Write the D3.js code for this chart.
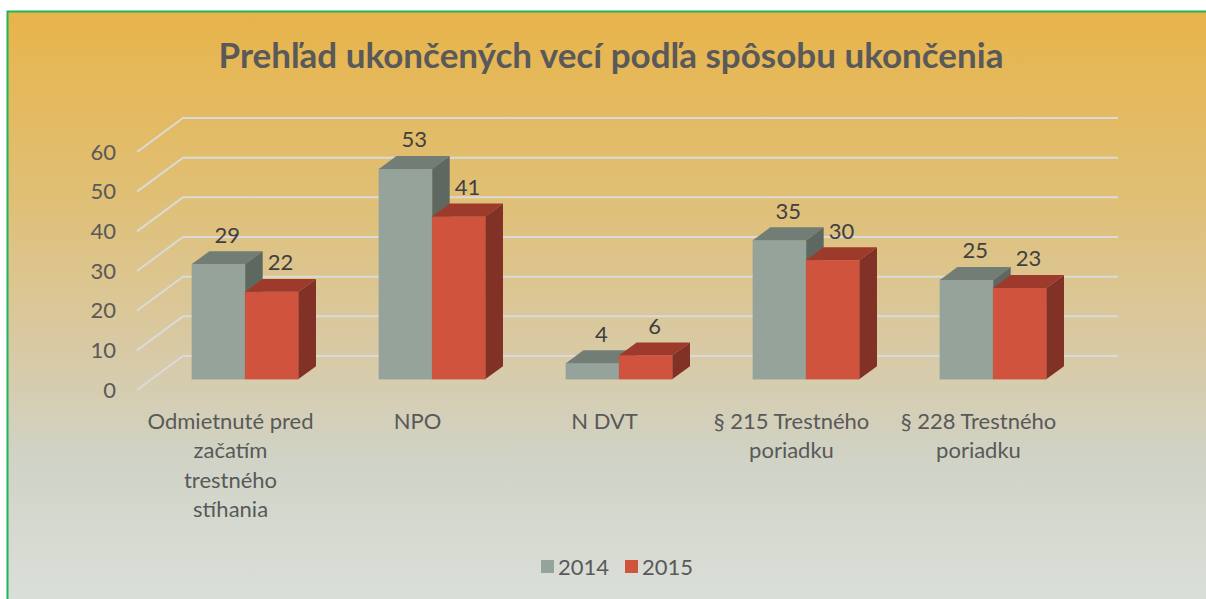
<!DOCTYPE html>
<html>
<head>
<meta charset="utf-8">
<script src="https://cdn.jsdelivr.net/npm/d3@7"></script>
<style>
  html, body { margin: 0; padding: 0; background: #fff; }
  svg { display: block; }
</style>
</head>
<body>
<div id="chart-container"></div>
<script>
const categoryLines = [
    ["Odmietnuté pred", "začatím", "trestného", "stíhania"],
    ["NPO"],
    ["N DVT"],
    ["§ 215 Trestného", "poriadku"],
    ["§ 228 Trestného", "poriadku"]
];
const categories = categoryLines.map(l => l.join(" "));
const seriesNames = ["2014", "2015"];
const values2014 = [29, 53, 4, 35, 25];
const values2015 = [22, 41, 6, 30, 23];
const yTicks = [0, 10, 20, 30, 40, 50, 60];
const title = "Prehľad ukončených vecí podľa spôsobu ukončenia";

const width = 1206;
const height = 599;
const font = "Lato, 'Open Sans', sans-serif";
const labelSize = "22px";

// 3d projection: depth 0 = front plane, depth 1 = back wall
const DX = 46, DY = -34;
const barFront = 0.32, barDepth = 0.38;

const colors = {
    "2014": { front: "#95a39a", top: "#727d75", side: "#5e6861" },
    "2015": { front: "#cf533d", top: "#9d3a2b", side: "#823126" }
};

const x = d3.scaleBand()
    .domain(categories)
    .range([137, 1072])
    .paddingInner(0.43)
    .paddingOuter(0.215);

const xs = d3.scaleBand()
    .domain(seriesNames)
    .range([0, x.bandwidth()]);

const y = d3.scaleLinear()
    .domain([0, 60])
    .range([390, 152]);

const svg = d3.select("#chart-container")
    .append("svg")
    .attr("width", width)
    .attr("height", height);

const defs = svg.append("defs");
const grad = defs.append("linearGradient")
    .attr("id", "bg")
    .attr("x1", 0).attr("y1", 0).attr("x2", 0).attr("y2", 1);
[["0%", "#e8b44a"], ["30%", "#e0bf74"], ["55%", "#d9c9a2"], ["75%", "#d0d3c6"], ["100%", "#dbe0db"]]
    .forEach(s => grad.append("stop").attr("offset", s[0]).attr("stop-color", s[1]));

svg.append("rect")
    .attr("x", 7.5)
    .attr("y", 11.5)
    .attr("width", 1220)
    .attr("height", 600)
    .attr("fill", "url(#bg)")
    .attr("stroke", "#1fb35a")
    .attr("stroke-width", 2);

// title
svg.append("text")
    .attr("x", 611)
    .attr("y", 68)
    .attr("text-anchor", "middle")
    .style("font-family", font)
    .style("font-weight", "bold")
    .style("font-size", "35px")
    .attr("fill", "#595959")
    .text(title);

// gridlines (side wall + back wall)
svg.selectAll(".grid")
    .data(yTicks)
    .enter()
    .append("path")
    .attr("class", "grid")
    .attr("d", d => {
        const x0 = x.range()[0], x1 = x.range()[1];
        return `M${x0},${y(d)}L${x0 + DX},${y(d) + DY}L${x1 + DX},${y(d) + DY}`;
    })
    .attr("fill", "none")
    .attr("stroke", "#dadada")
    .attr("stroke-width", 2);

// y labels
svg.selectAll(".ylab")
    .data(yTicks)
    .enter()
    .append("text")
    .attr("class", "ylab")
    .attr("x", 116)
    .attr("y", d => y(d))
    .attr("dy", "0.35em")
    .attr("text-anchor", "end")
    .style("font-family", font)
    .style("font-size", labelSize)
    .attr("fill", "#595959")
    .text(d => d);

// bars
const barData = [];
categories.forEach((c, i) => {
    barData.push({ cat: c, series: "2014", value: values2014[i] });
    barData.push({ cat: c, series: "2015", value: values2015[i] });
});

const bars = svg.selectAll(".bar")
    .data(barData)
    .enter()
    .append("g")
    .attr("class", "bar");

const geo = d => {
    const x0 = x(d.cat) + xs(d.series) + barFront * DX;
    const w = xs.bandwidth();
    const yTop = y(d.value) + barFront * DY;
    const yBot = y(0) + barFront * DY;
    const ddx = barDepth * DX, ddy = barDepth * DY;
    return { x0, w, yTop, yBot, ddx, ddy };
};

bars.append("rect")
    .attr("x", d => geo(d).x0)
    .attr("y", d => geo(d).yTop)
    .attr("width", xs.bandwidth())
    .attr("height", d => geo(d).yBot - geo(d).yTop)
    .attr("fill", d => colors[d.series].front)
    .attr("stroke", d => colors[d.series].front)
    .attr("stroke-opacity", 0.6)
    .attr("stroke-width", 0.8);

bars.append("path")
    .attr("d", d => {
        const g = geo(d);
        return `M${g.x0},${g.yTop}L${g.x0 + g.w},${g.yTop}L${g.x0 + g.w + g.ddx},${g.yTop + g.ddy}L${g.x0 + g.ddx},${g.yTop + g.ddy}Z`;
    })
    .attr("fill", d => colors[d.series].top);

bars.append("path")
    .attr("d", d => {
        const g = geo(d);
        const xr = g.x0 + g.w;
        return `M${xr},${g.yTop}L${xr + g.ddx},${g.yTop + g.ddy}L${xr + g.ddx},${g.yBot + g.ddy}L${xr},${g.yBot}Z`;
    })
    .attr("fill", d => colors[d.series].side);

// value labels
svg.selectAll(".vlab")
    .data(barData)
    .enter()
    .append("text")
    .attr("class", "vlab")
    .attr("x", d => { const g = geo(d); return g.x0 + g.w / 2 + g.ddx / 2; })
    .attr("y", d => { const g = geo(d); return g.yTop + g.ddy / 2 - 15; })
    .attr("text-anchor", "middle")
    .style("font-family", font)
    .style("font-size", labelSize)
    .attr("fill", "#404040")
    .text(d => d.value);

// category labels
const catLab = svg.selectAll(".clab")
    .data(categories)
    .enter()
    .append("text")
    .attr("class", "clab")
    .attr("text-anchor", "middle")
    .style("font-family", font)
    .style("font-size", labelSize)
    .attr("fill", "#595959");

catLab.selectAll("tspan")
    .data((d, i) => categoryLines[i].map(line => ({ line, cx: x(d) + x.bandwidth() / 2 })))
    .enter()
    .append("tspan")
    .attr("x", d => d.cx)
    .attr("y", (d, i) => 429 + i * 29.3)
    .text(d => d.line);

// legend
const legend = svg.append("g")
    .attr("transform", "translate(541,567)");

const legendX = d3.scalePoint()
    .domain(seriesNames)
    .range([0, 84]);

const item = legend.selectAll(".legend")
    .data(seriesNames)
    .enter()
    .append("g")
    .attr("class", "legend")
    .attr("transform", d => `translate(${legendX(d)},0)`);

item.append("rect")
    .attr("x", 0)
    .attr("y", -7)
    .attr("width", 13)
    .attr("height", 13)
    .attr("fill", d => colors[d].front);

item.append("text")
    .attr("x", 17)
    .attr("y", 0)
    .attr("dy", "0.35em")
    .style("font-family", font)
    .style("font-size", labelSize)
    .attr("fill", "#595959")
    .text(d => d);
</script>
</body>
</html>
